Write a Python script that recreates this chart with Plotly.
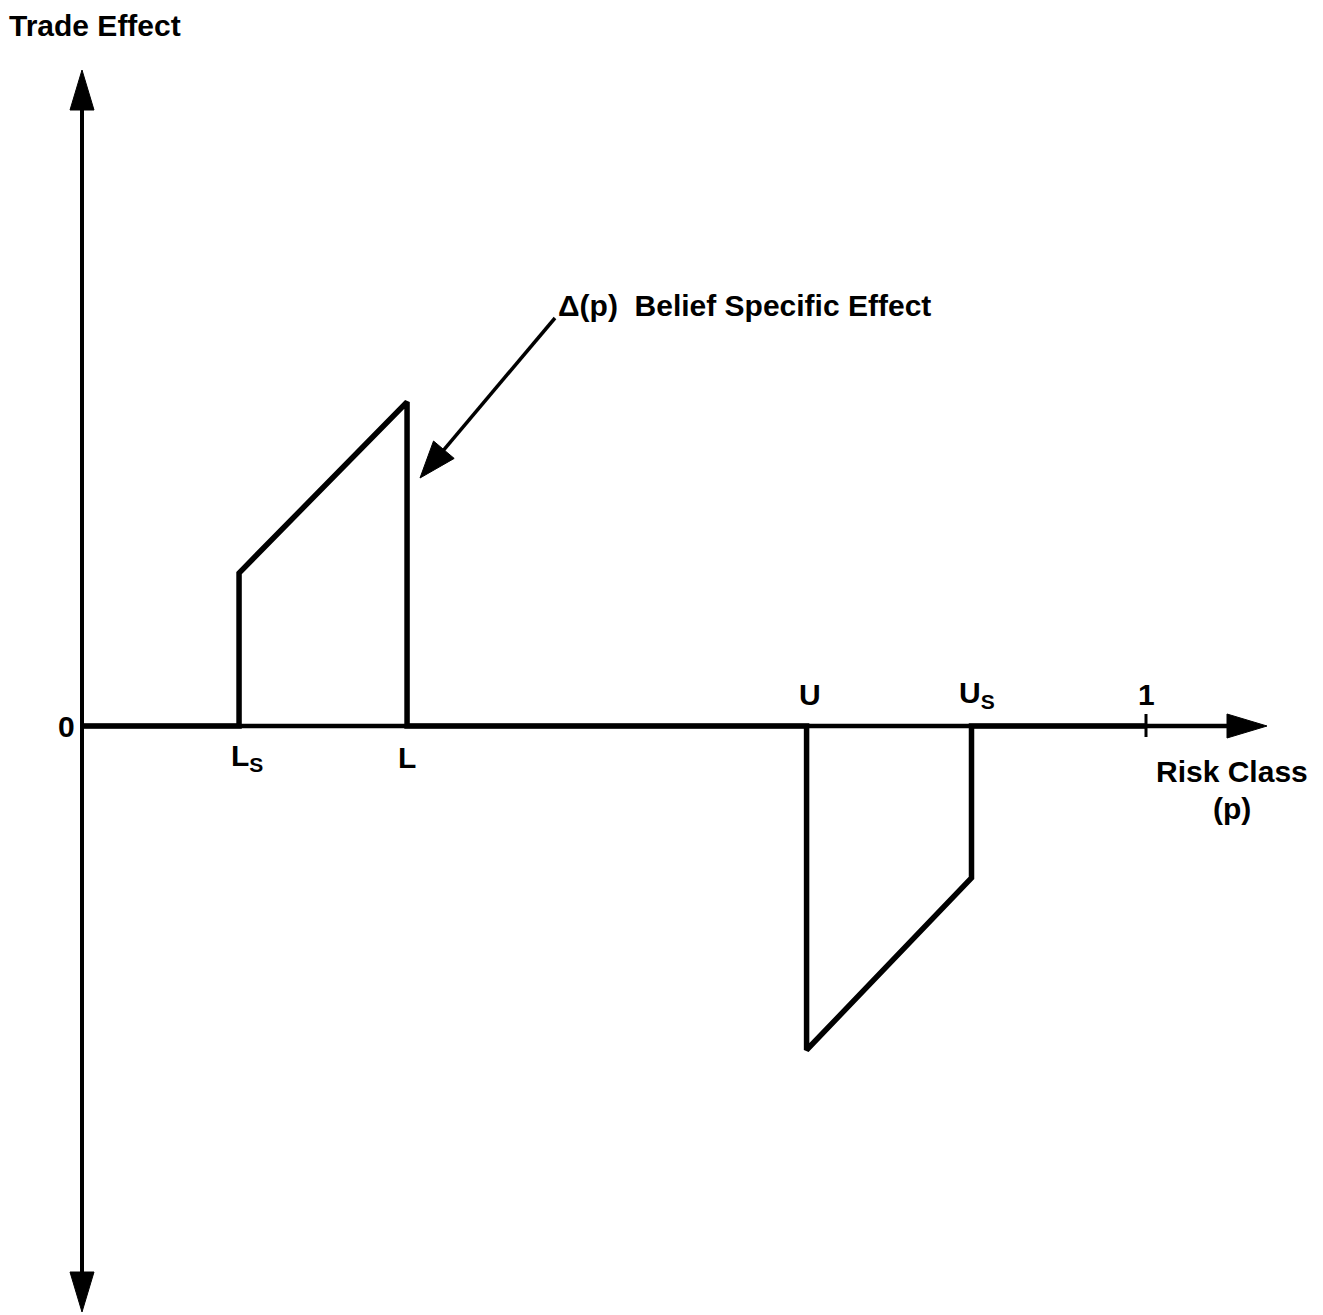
import plotly.graph_objects as go
import math

# ---- data (risk class p, trade effect) ----
p_points = [0.0, 0.1476, 0.1476, 0.3055, 0.3055, 0.681, 0.681, 0.836, 0.836, 1.0]
effect = [0.0, 0.0, 1.53, 3.24, 0.0, 0.0, -3.24, -1.52, 0.0, 0.0]

tick_vals = [0.1476, 0.3055, 0.681, 0.836, 1.0]
tick_labels = ["L<sub>S</sub>", "L", "U", "U<sub>S</sub>", "1"]
tick_side = ["below", "below", "above", "above", "above"]

W, H = 1323, 1315
X0PX, X1PX = 82, 1146     # pixel of p=0 and p=1
Y0PX, YSC = 726, 100.0    # pixel of effect=0, px per unit
XSC = X1PX - X0PX

def dx(px):
    return (px - X0PX) / XSC

def dy(py):
    return (Y0PX - py) / YSC

x_range = [dx(0), dx(W)]
y_range = [dy(H), dy(0)]

FONT = "Liberation Sans"
fs = 30

fig = go.Figure()
fig.add_trace(go.Scatter(x=p_points, y=effect, mode="lines",
                         line=dict(color="black", width=5.5), hoverinfo="skip",
                         showlegend=False))

shapes = []
shapes.append(dict(type="line", xref="x", yref="y", x0=0, x1=0, y0=dy(1272), y1=dy(110),
                   line=dict(color="black", width=4)))
shapes.append(dict(type="line", xref="x", yref="y", x0=0, x1=dx(1230), y0=0, y1=0,
                   line=dict(color="black", width=4.5)))

def tri(p1, p2, p3):
    pts = [p1, p2, p3]
    path = "M " + " L ".join(f"{dx(a)},{dy(b)}" for a, b in pts) + " Z"
    return dict(type="path", xref="x", yref="y", path=path,
                fillcolor="black", line=dict(color="black", width=1))

shapes.append(tri((X0PX, 70), (X0PX - 12, 110), (X0PX + 12, 110)))
shapes.append(tri((X0PX, 1312), (X0PX - 12, 1272), (X0PX + 12, 1272)))
shapes.append(tri((1267, Y0PX), (1227, Y0PX - 12), (1227, Y0PX + 12)))
shapes.append(dict(type="line", xref="x", yref="y", x0=1.0, x1=1.0, y0=dy(737), y1=dy(714),
                   line=dict(color="black", width=3)))

# pointer arrow for the annotation
tail = (555, 318)
tip = (420, 478)
vx, vy = tip[0] - tail[0], tip[1] - tail[1]
ln = math.hypot(vx, vy)
ux, uy = vx / ln, vy / ln
hl, hw = 37, 13.5
bx, by = tip[0] - hl * ux, tip[1] - hl * uy
shapes.append(dict(type="line", xref="x", yref="y", x0=dx(tail[0]), y0=dy(tail[1]),
                   x1=dx(bx + 4 * ux), y1=dy(by + 4 * uy), line=dict(color="black", width=3.5)))
shapes.append(tri(tip, (bx - hw * uy, by + hw * ux), (bx + hw * uy, by - hw * ux)))

annotations = []
def txt(x, y, s, xanchor="center", yanchor="middle", size=fs):
    annotations.append(dict(x=x, y=y, xref="x", yref="y", text="<b>" + s + "</b>",
                            showarrow=False, xanchor=xanchor, yanchor=yanchor,
                            font=dict(family=FONT, size=size, color="black")))

# label offsets (px) relative to each tick position
label_dx = [-10, 0, 3, -15, 0]
for v, lab, side, off in zip(tick_vals, tick_labels, tick_side, label_dx):
    xa = "left" if "sub" in lab else "center"
    if side == "below":
        txt(v + off / XSC, dy(757), lab, xanchor=xa)
    else:
        txt(v + off / XSC, dy(694), lab, xanchor=xa)

txt(dx(77), 0, "0", xanchor="right")
txt(dx(7), dy(25), "Trade Effect", xanchor="left")
txt(dx(556), dy(305), "Δ(p)  Belief Specific Effect", xanchor="left")
txt(dx(1232), dy(771), "Risk Class")
txt(dx(1232), dy(808), "(p)")

fig.update_layout(
    width=W, height=H,
    margin=dict(l=0, r=0, t=0, b=0),
    paper_bgcolor="white", plot_bgcolor="white",
    xaxis=dict(range=x_range, visible=False, fixedrange=True),
    yaxis=dict(range=y_range, visible=False, fixedrange=True),
    shapes=shapes, annotations=annotations,
    showlegend=False,
)
fig.write_html("out.html", config={"displayModeBar": False},
               post_script="document.body.style.margin='0';document.body.style.overflow='hidden';")
